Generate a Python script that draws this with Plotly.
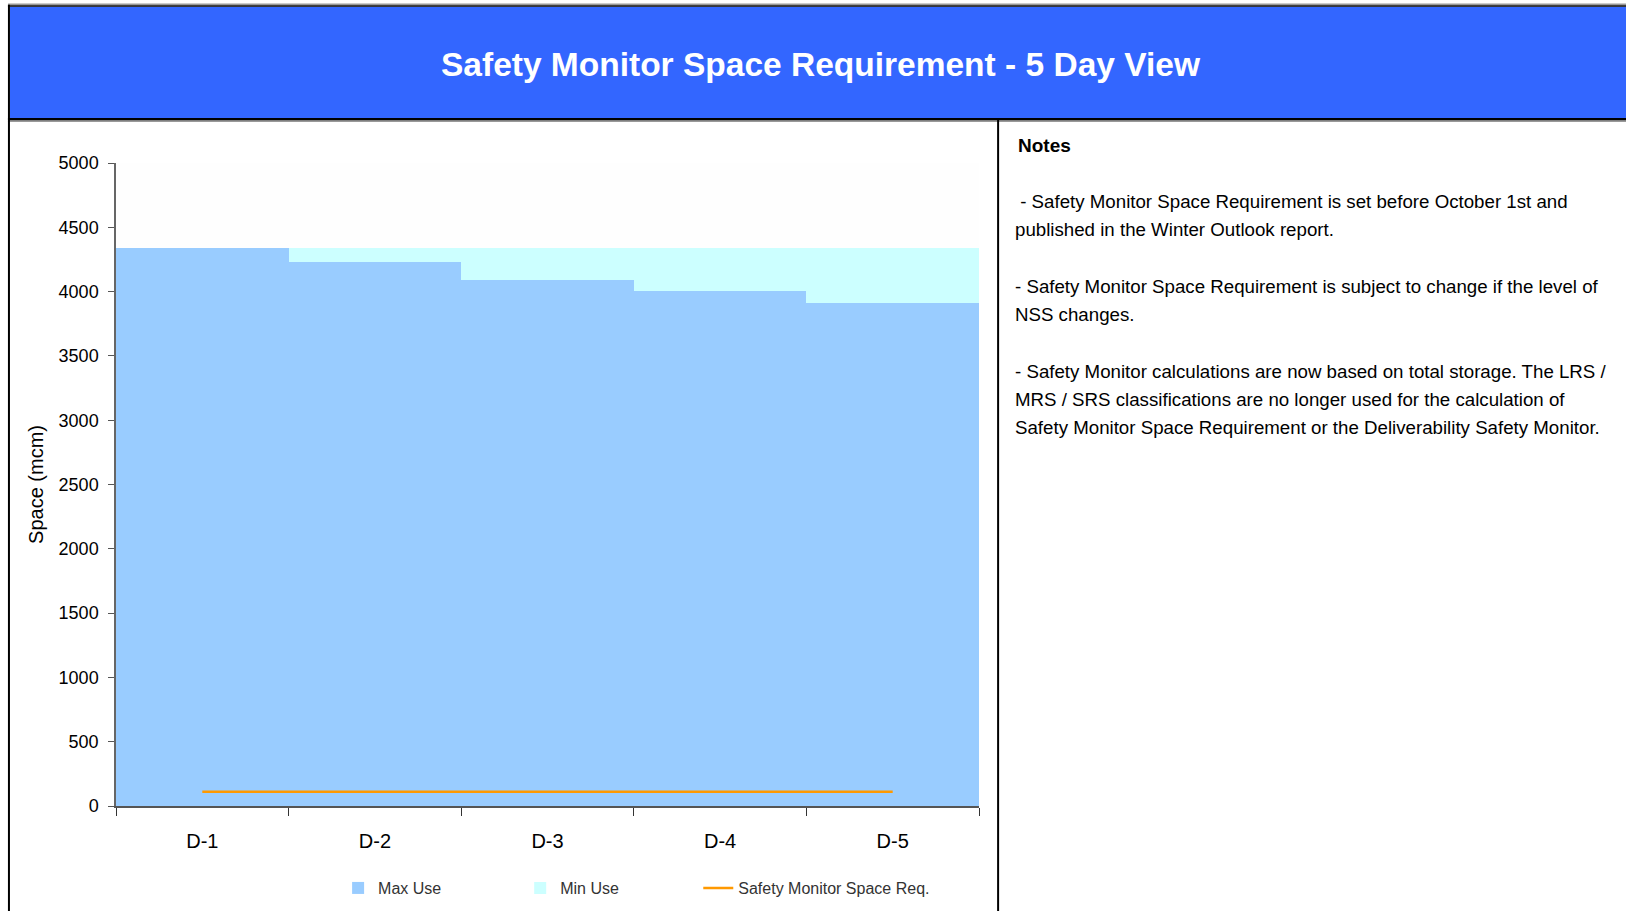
import plotly.graph_objects as go

# ---- data ----
days = ["D-1", "D-2", "D-3", "D-4", "D-5"]
max_use = [4340, 4230, 4090, 4005, 3910]
min_use = [4340, 4340, 4340, 4340, 4340]
safety_req = [110, 110, 110, 110, 110]
y_ticks = [0, 500, 1000, 1500, 2000, 2500, 3000, 3500, 4000, 4500, 5000]

title_text = "Safety Monitor Space Requirement - 5 Day View"
notes_title = "Notes"
notes_lines = [
    "&nbsp;- Safety Monitor Space Requirement is set before October 1st and",
    "published in the Winter Outlook report.",
    "- Safety Monitor Space Requirement is subject to change if the level of",
    "NSS changes.",
    "- Safety Monitor calculations are now based on total storage. The LRS /",
    "MRS / SRS classifications are no longer used for the calculation of",
    "Safety Monitor Space Requirement or the Deliverability Safety Monitor.",
]
notes_y = [202, 230, 287, 315, 372, 400, 428]
notes_x = [1013, 1013, 1013, 1013, 1013, 1013, 1013]

W, H = 1626, 911
L, R, T, B = 116, 978.6, 163.3, 806.0
FONT = "Liberation Sans, Arial"


def px(x):
    return (x - L) / (R - L)


def py(y):
    return (B - y) / (B - T)


fig = go.Figure()
fig.add_trace(go.Bar(x=days, y=min_use, width=1, name="Min Use", legend="legend2",
                     marker=dict(color="#CCFFFF", line=dict(width=0))))
fig.add_trace(go.Bar(x=days, y=max_use, width=1, name="Max Use", legend="legend",
                     marker=dict(color="#99CCFF", line=dict(width=0))))
fig.add_trace(go.Scatter(x=days, y=safety_req, mode="lines", name="Safety Monitor Space Req.",
                         legend="legend3", line=dict(color="#FF9900", width=2.5)))

shapes = []
shapes.append(dict(type="rect", xref="paper", yref="paper", x0=px(10), x1=px(W + 5),
                   y0=py(120), y1=py(7), fillcolor="#3366FF", line=dict(width=0), layer="below"))
shapes.append(dict(type="line", xref="paper", yref="paper", x0=px(8), x1=px(W + 5),
                   y0=py(4.5), y1=py(4.5), line=dict(color="#999999", width=1.5)))
shapes.append(dict(type="line", xref="paper", yref="paper", x0=px(8), x1=px(W + 5),
                   y0=py(6.3), y1=py(6.3), line=dict(color="#000000", width=1.5)))
shapes.append(dict(type="line", xref="paper", yref="paper", x0=px(8), x1=px(W + 5),
                   y0=py(119.5), y1=py(119.5), line=dict(color="#000000", width=2.5)))
shapes.append(dict(type="line", xref="paper", yref="paper", x0=px(8), x1=px(W + 5),
                   y0=py(121.8), y1=py(121.8), line=dict(color="#999999", width=1.2)))
shapes.append(dict(type="line", xref="paper", yref="paper", x0=px(9), x1=px(9),
                   y0=py(5), y1=py(H + 5), line=dict(color="#000000", width=2)))
shapes.append(dict(type="line", xref="paper", yref="paper", x0=px(997.7), x1=px(997.7),
                   y0=py(120), y1=py(H + 5), line=dict(color="#000000", width=2)))

annotations = []
annotations.append(dict(xref="paper", yref="paper", x=px(821), y=py(65), text="<b>" + title_text + "</b>",
                        showarrow=False, xanchor="center", yanchor="middle",
                        font=dict(family=FONT, size=33.5, color="#FFFFFF")))
annotations.append(dict(xref="paper", yref="paper", x=px(1016), y=py(146), text="<b>" + notes_title + "</b>",
                        showarrow=False, xanchor="left", yanchor="middle",
                        font=dict(family=FONT, size=19, color="#000000")))
for t, xx, yy in zip(notes_lines, notes_x, notes_y):
    annotations.append(dict(xref="paper", yref="paper", x=px(xx), y=py(yy), text=t,
                            showarrow=False, xanchor="left", yanchor="middle",
                            font=dict(family=FONT, size=18.7, color="#000000")))

leg_common = dict(orientation="h", xanchor="left", yanchor="middle", y=py(888),
                  font=dict(family=FONT, size=16, color="#333333"), bgcolor="rgba(0,0,0,0)")

fig.update_layout(
    width=W, height=H,
    margin=dict(l=L, r=W - R, t=T, b=H - B, autoexpand=False),
    paper_bgcolor="#FFFFFF", plot_bgcolor="#FEFEFE",
    barmode="overlay", bargap=0,
    shapes=shapes, annotations=annotations,
    showlegend=True,
    legend=dict(x=px(338), **leg_common),
    legend2=dict(x=px(520), **leg_common),
    legend3=dict(x=px(698), **leg_common),
    xaxis=dict(type="category", categoryorder="array", categoryarray=days, range=[-0.5, 4.5],
               tickson="boundaries", ticks="outside", ticklen=8, tickcolor="#333333",
               showline=True, linecolor="#555555", linewidth=2, showgrid=False,
               tickfont=dict(family=FONT, size=20, color="#000000"), ticklabelstandoff=16),
    yaxis=dict(range=[0, 5000], tickvals=y_ticks, ticks="outside", ticklen=6, tickcolor="#555555",
               showline=True, linecolor="#666666", linewidth=1.5, showgrid=False, zeroline=False,
               tickfont=dict(family=FONT, size=18, color="#000000"), ticklabelstandoff=6,
               title=dict(text="Space (mcm)", font=dict(family=FONT, size=20, color="#000000"), standoff=10)),
)

fig.write_html("out.html", config={"displayModeBar": False},
               post_script="document.body.style.margin='0px';document.body.style.overflow='hidden';")
